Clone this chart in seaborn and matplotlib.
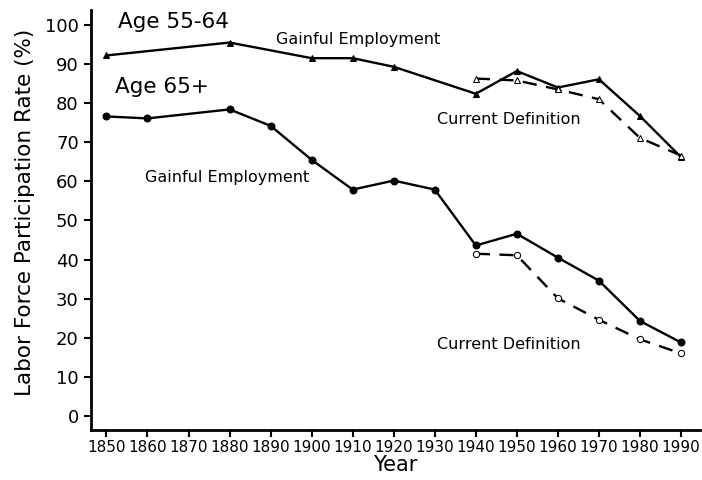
import numpy as np
import pandas as pd
import matplotlib
matplotlib.use("Agg")
import matplotlib.pyplot as plt
import seaborn as sns

# values
years_gain_5564 = [1850, 1880, 1900, 1910, 1920, 1940, 1950, 1960, 1970, 1980, 1990]
gain_5564 = [92.2, 95.5, 91.5, 91.5, 89.3, 82.4, 88.2, 84.0, 86.1, 76.7, 66.2]

years_curr = [1940, 1950, 1960, 1970, 1980, 1990]
curr_5564 = [86.3, 85.8, 83.5, 81.0, 71.1, 66.6]

years_gain_65 = [1850, 1860, 1880, 1890, 1900, 1910, 1920, 1930, 1940, 1950, 1960, 1970, 1980, 1990]
gain_65 = [76.6, 76.1, 78.4, 74.2, 65.5, 57.9, 60.2, 57.9, 43.6, 46.6, 40.5, 34.6, 24.3, 18.8]

curr_65 = [41.5, 41.1, 30.1, 24.6, 19.6, 16.0]

xticks = list(range(1850, 2000, 10))
yticks = list(range(0, 101, 10))

sns.set_style("ticks")
plt.rcParams["font.family"] = ["DejaVu Sans"]
plt.rcParams["text.color"] = "black"
plt.rcParams["axes.labelcolor"] = "black"

fig = plt.figure(figsize=(7.02, 4.80), dpi=100)
ax = fig.add_axes([0.13, 0.104, 0.867, 0.875])

kw = dict(color="black", linewidth=1.7, markeredgecolor="black", ax=ax)
sns.lineplot(x=years_gain_5564, y=gain_5564, marker="^", markersize=5, **kw)
sns.lineplot(x=years_curr, y=curr_5564, marker="^", markersize=5, linestyle=(0, (6, 4)),
             markerfacecolor="white", **kw)
sns.lineplot(x=years_gain_65, y=gain_65, marker="o", markersize=5, **kw)
sns.lineplot(x=years_curr, y=curr_65, marker="o", markersize=4.5, linestyle=(0, (6, 4)),
             markerfacecolor="white", **kw)

ax.set_xlim(1846.3, 1994.6)
ax.set_ylim(-3.6, 103.8)
ax.set_xticks(xticks)
ax.set_yticks(yticks)
ax.tick_params(axis="x", labelsize=11, length=5, width=1.5, pad=2, colors="black")
ax.tick_params(axis="y", labelsize=13, length=5, width=1.5, pad=4, colors="black")
for s in ["top", "right"]:
    ax.spines[s].set_visible(False)
for s in ["left", "bottom"]:
    ax.spines[s].set_linewidth(2)
    ax.spines[s].set_color("black")

ax.set_xlabel("Year", fontsize=15, labelpad=0)
ax.set_ylabel("Labor Force Participation Rate (%)", fontsize=15.5)
ax.yaxis.set_label_coords(-0.093, 0.518)

ax.text(1852.7, 100.8, "Age 55-64", fontsize=15.5, va="center")
ax.text(1852.2, 84.1, "Age 65+", fontsize=15.5, va="center")
ax.text(1891.4, 96.2, "Gainful Employment", fontsize=11.5, va="center")
ax.text(1859.5, 60.9, "Gainful Employment", fontsize=11.5, va="center")
ax.text(1930.6, 75.7, "Current Definition", fontsize=11.5, va="center")
ax.text(1930.6, 18.2, "Current Definition", fontsize=11.5, va="center")

fig.savefig("out.png", dpi=100)
